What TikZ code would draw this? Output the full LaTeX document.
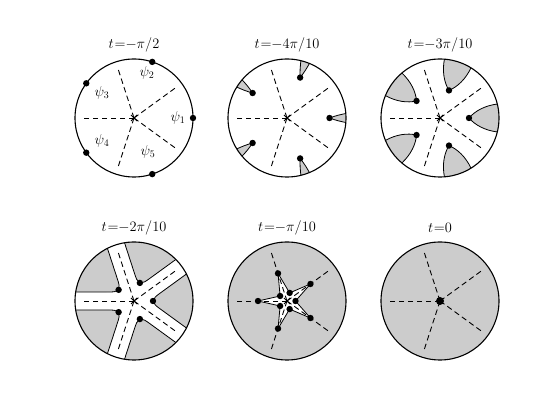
\documentclass[tikz,border=0pt]{standalone}
\begin{document}
\tikzset{
  rim/.style={line width=1.1pt},
  ray/.style={dash pattern=on 5.5pt off 3.5pt, line width=0.9pt},
  region/.style={fill=black!20, draw=black, line width=0.8pt},
  ttl/.style={font=\Large},
  lbl/.style={font=\Large},
}
\newcommand\myrays{\foreach \a in {36,108,180,252,324} \draw[ray] (0,0) -- (\a:53);}
\newcommand\mycross{\draw[line width=0.8pt] (-3,-3) -- (3,3) (-3,3) -- (3,-3);}
\begin{tikzpicture}[x=1pt,y=1pt]
\path[use as bounding box] (0,0) rectangle (560,420);
% Panel 1
\begin{scope}[shift={(134,302)}]
  \node[ttl] (t1) at (0,73) {$t\mkern1mu{=}{-}\pi/2$};
  \myrays
  \mycross
  \draw[rim] (0,0) circle (59);
  \foreach \a in {0,72,144,216,288} \fill (\a:59) circle (3.2);
  \node[lbl] (p1) at (44,0) {$\psi_1$};
  \node[lbl] (p2) at (13,45) {$\psi_2$};
  \node[lbl] (p3) at (-32,25) {$\psi_3$};
  \node[lbl] (p4) at (-32,-23) {$\psi_4$};
  \node[lbl] (p5) at (14,-34) {$\psi_5$};
\end{scope}
% Panel 2
\begin{scope}[shift={(287,302)}]
  \node[ttl] (t2) at (0,73) {$t\mkern1mu{=}{-}4\pi/10$};
  \begin{scope}
    \clip (0,0) circle (59);
    \foreach \k in {0,...,4} {
      \begin{scope}[rotate=72*\k]
        \filldraw[region] (42.5,0) .. controls (48,2) and (53,3.6) .. (62,5) -- (62,-5) .. controls (53,-3.6) and (48,-2) .. (42.5,0) -- cycle;
      \end{scope}
    }
  \end{scope}
  \myrays
  \mycross
  \draw[rim] (0,0) circle (59);
  \foreach \a in {0,72,144,216,288} \fill (\a:42.5) circle (3.2);
\end{scope}
% Panel 3
\begin{scope}[shift={(440,302)}]
  \node[ttl] (t3) at (0,73) {$t\mkern1mu{=}{-}3\pi/10$};
  \begin{scope}
    \clip (0,0) circle (59);
    \foreach \k in {0,...,4} {
      \begin{scope}[rotate=72*\k]
        \filldraw[region] (29,0) .. controls (35,7) and (45,12.5) .. (57.5,14) -- (66,15.5) -- (66,-15.5) -- (57.5,-14) .. controls (45,-12.5) and (35,-7) .. (29,0) -- cycle;
      \end{scope}
    }
  \end{scope}
  \myrays
  \mycross
  \draw[rim] (0,0) circle (59);
  \foreach \a in {0,72,144,216,288} \fill (\a:29) circle (3.2);
\end{scope}
% Panel 4
\begin{scope}[shift={(134,119)}]
  \node[ttl] (t4) at (0,73) {$t\mkern1mu{=}{-}2\pi/10$};
  \begin{scope}
    \clip (0,0) circle (59);
    \foreach \k in {0,...,4} {
      \begin{scope}[rotate=72*\k]
        \filldraw[region] (19,0) .. controls (20.66,3.89) .. (27.94,9.18) -- (65.97,36.82) -- (80,0) -- (65.97,-36.82) -- (27.94,-9.18) .. controls (20.66,-3.89) .. (19,0) -- cycle;
      \end{scope}
    }
  \end{scope}
  \myrays
  \mycross
  \draw[rim] (0,0) circle (59);
  \foreach \a in {0,72,144,216,288} \fill (\a:19) circle (3.2);
\end{scope}
% Panel 5
\begin{scope}[shift={(287,119)}]
  \node[ttl] (t5) at (0,73) {$t\mkern1mu{=}{-}\pi/10$};
  \fill[black!20] (0,0) circle (59);
  \filldraw[fill=white, draw=black, line width=0.8pt]
    (36:29) -- (72:8.5) -- (108:29) -- (144:8.5) -- (180:29) -- (216:8.5)
    -- (252:29) -- (288:8.5) -- (324:29) -- (0:8.5) -- cycle;
  \myrays
  \mycross
  \draw[rim] (0,0) circle (59);
  \foreach \a in {0,72,144,216,288} \fill (\a:8.5) circle (3.2);
  \foreach \a in {36,108,180,252,324} \fill (\a:29) circle (3.2);
\end{scope}
% Panel 6
\begin{scope}[shift={(440,119)}]
  \node[ttl] (t6) at (0,73) {$t\mkern1mu{=}0$};
  \fill[black!20] (0,0) circle (59);
  \myrays
  \fill (0,0) circle (4);
  \draw[rim] (0,0) circle (59);
\end{scope}
\end{tikzpicture}
\end{document}
